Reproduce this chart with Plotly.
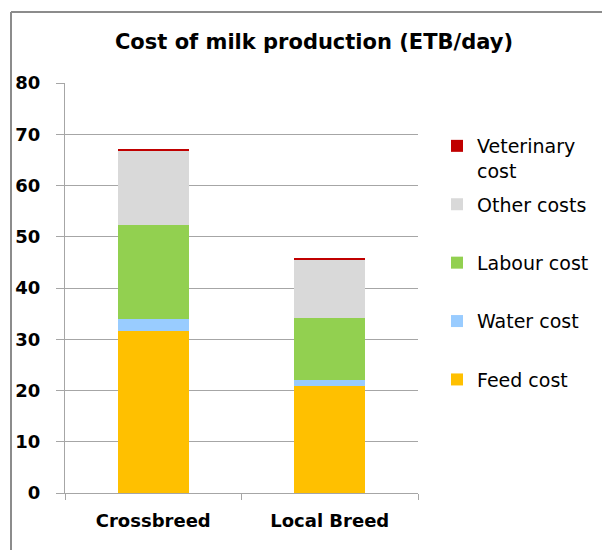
import plotly.graph_objects as go

# Daily cost of milk production per breed (ETB/day)
breeds = ["Crossbreed", "Local Breed"]
feed_cost = [31.6, 20.9]
water_cost = [2.3, 1.15]
labour_cost = [18.4, 12.0]
other_costs = [14.5, 11.55]
veterinary_cost = [0.3, 0.15]

series = [
    ("Feed cost<br>\u00a0", feed_cost, "#FFC000"),
    ("Water cost<br>\u00a0", water_cost, "#99CCFF"),
    ("Labour cost<br>\u00a0", labour_cost, "#92D050"),
    ("Other costs<br>\u00a0", other_costs, "#D9D9D9"),
    ("Veterinary<br>cost", veterinary_cost, "#C00000"),
]

W, H = 602, 550
L, R, T, B = 65, 184, 83, 57

fig = go.Figure()
for i, (name, vals, color) in enumerate(series):
    fig.add_trace(go.Bar(
        x=breeds, y=vals, name=name, legendgroup=f"g{i}",
        legendrank=len(series) - i,
        marker=dict(color=color, line=dict(width=0)),
    ))

pw, ph = W - L - R, H - T - B
# outer chart frame (left and top edges)
frame = dict(color="#8C8C8C", width=2)
fig.add_shape(type="line", xref="paper", yref="paper",
              x0=(11 - L) / pw, x1=(11 - L) / pw, y0=-(B + 5) / ph, y1=(H - B - 12) / ph,
              line=frame)
fig.add_shape(type="line", xref="paper", yref="paper",
              x0=(11 - L) / pw, x1=(W + 5 - L) / pw, y0=(H - B - 12) / ph, y1=(H - B - 12) / ph,
              line=frame)

font_family = "DejaVu Sans, Open Sans, sans-serif"
fig.update_layout(
    width=W, height=H,
    margin=dict(l=L, r=R, t=T, b=B, autoexpand=False),
    barmode="stack", bargap=0.6,
    paper_bgcolor="white", plot_bgcolor="white",
    font=dict(family=font_family, color="#000000"),
    title=dict(text="<b>Cost of milk production (ETB/day)</b>",
               x=(314 - L) / pw, xref="paper", xanchor="center",
               y=1 - 42 / H, yref="container", yanchor="middle",
               font=dict(size=21, color="#000000")),
    yaxis=dict(range=[0, 80], dtick=10, showgrid=True, gridcolor="#A6A6A6", gridwidth=1,
               showline=True, linecolor="#A6A6A6", linewidth=1,
               ticks="outside", ticklen=8, tickcolor="#A6A6A6",
               tickfont=dict(size=18, color="#000000", family=font_family),
               zeroline=False, ticklabelstandoff=12),
    xaxis=dict(showline=True, linecolor="#A6A6A6", linewidth=1,
               ticks="outside", ticklen=6, tickcolor="#A6A6A6", tickson="boundaries",
               tickfont=dict(size=18, color="#000000", family=font_family),
               ticklabelstandoff=11),
    legend=dict(traceorder="grouped", tracegroupgap=6, valign="top",
                x=(437 - L) / pw, xanchor="left", y=(H - B - 127) / ph, yanchor="top",
                font=dict(size=19, color="#000000"), bgcolor="rgba(0,0,0,0)"),
)
fig.update_xaxes(tickvals=breeds, ticktext=[f"<b>{b}</b>" for b in breeds])
fig.update_yaxes(tickvals=list(range(0, 81, 10)), ticktext=[f"<b>{v}</b>" for v in range(0, 81, 10)])

fig.write_html("out.html")
